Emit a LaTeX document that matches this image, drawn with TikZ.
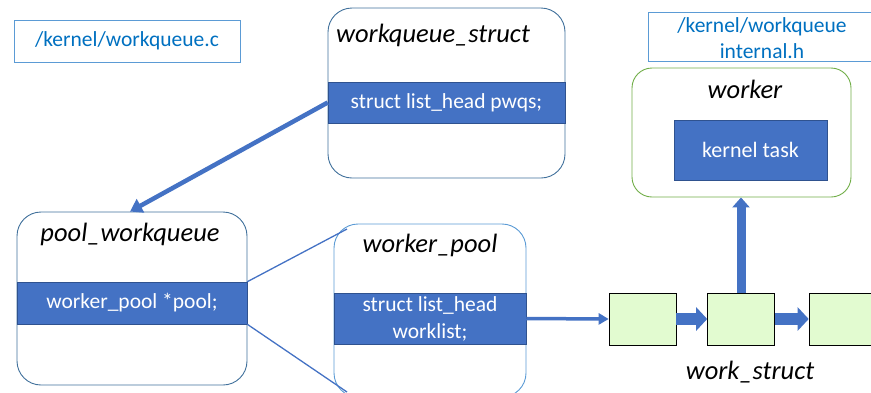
\documentclass[tikz,border=0pt]{standalone}
\usepackage{fontspec}
\setmainfont{Carlito}
\usetikzlibrary{arrows.meta}
\definecolor{bandblue}{RGB}{68,114,196}
\definecolor{bandedge}{RGB}{47,82,143}
\definecolor{structedge}{RGB}{65,113,156}
\definecolor{lightedge}{RGB}{91,155,213}
\definecolor{labeltext}{RGB}{0,112,192}
\definecolor{greenedge}{RGB}{112,173,71}
\definecolor{greenfill}{RGB}{226,251,208}
\tikzset{
  x=1pt,y=-1pt,
  structbox/.style={draw=structedge,line width=0.9pt,rounded corners=24pt,fill=white,inner sep=0pt},
  band/.style={draw=bandedge,line width=0.5pt,fill=bandblue,text=white,inner sep=0pt,font=\fontsize{21.5}{27}\selectfont,align=center},
  title/.style={font=\fontsize{26.5}{30}\selectfont\itshape,inner sep=0pt},
  filelabel/.style={draw=lightedge,line width=0.8pt,text=labeltext,font=\fontsize{21.5}{26}\selectfont,align=center,inner sep=0pt},
  workbox/.style={draw=black,line width=0.6pt,fill=greenfill,minimum width=67pt,minimum height=52pt,inner sep=0pt},
  blockarrow/.style={draw=bandblue,line width=12pt,-{Triangle[length=11pt 0,width=23pt 0]}},
  uparrow/.style={draw=bandblue,line width=9pt,-{Triangle[length=10pt 0,width=17pt 0]}},
  link/.style={draw=bandblue,line width=1.3pt},
}
\begin{document}
\begin{tikzpicture}
\useasboundingbox (0,0) rectangle (871,392);
\clip (0,0) rectangle (871,392);
% file labels
\node[filelabel,minimum width=226pt,minimum height=42pt] (lab1) at (127,41) {/kernel/workqueue.c};
\node[filelabel,minimum width=232pt,minimum height=49pt] (lab2) at (764,36.5) {};
\node[text=labeltext,font=\fontsize{21.5}{26}\selectfont,align=center,inner sep=0pt] (lab2t) at (762,38) {/kernel/workqueue\\internal.h};
% workqueue_struct
\node[structbox,minimum width=237pt,minimum height=170pt] (wq) at (446.5,93) {};
\node[title] (wqt) at (433,35) {workqueue\_struct};
\node[band,minimum width=237pt,minimum height=41pt] (wqb) at (446.5,102.5) {struct list\_head pwqs;};
% pool_workqueue
\node[structbox,minimum width=230pt,minimum height=173pt] (pwq) at (132,298.5) {};
\node[title] (pwqt) at (130,234) {pool\_workqueue};
\node[band,minimum width=230pt,minimum height=42pt] (pwqb) at (132,303) {worker\_pool *pool;};
% worker_pool
\node[structbox,draw=lightedge,minimum width=192pt,minimum height=173pt] (wp) at (430,310.5) {};
\node[title] (wpt) at (430,245) {worker\_pool};
\node[band,minimum width=192pt,minimum height=51pt] (wpb) at (430,318.5) {struct list\_head\\worklist;};
% worker
\node[draw=greenedge,line width=0.9pt,rounded corners=20pt,minimum width=219pt,minimum height=129pt,inner sep=0pt] (wk) at (741.5,132.5) {};
\node[title] (wkt) at (745,89) {worker};
\node[fill=bandblue,draw=bandedge,line width=0.5pt,text=white,minimum width=153pt,minimum height=60pt,inner sep=0pt,font=\fontsize{22}{26}\selectfont] (kt) at (750.5,150) {kernel task};
% work structs
\node[workbox] (b1) at (642.5,319) {};
\node[workbox] (b2) at (741,319) {};
\node[workbox] (b3) at (842.5,319) {};
\node[title] (wst) at (750,372) {work\_struct};
% connectors
\coordinate (wptop) at (347,229);
\coordinate (wpbot) at (347,392);
\draw[link] (pwqb.north east) -- (wptop);
\draw[link] (pwqb.south east) -- (wpbot);
\draw[draw=bandblue,line width=4.5pt,-{Triangle[length=12pt 0,width=15pt 0]}] (wqb.west) -- (pwq.north -| 130,0);
\draw[draw=bandblue,line width=3.5pt,-{Triangle[length=10pt 0,width=11pt 0]}] (wpb.east) -- (b1.west);
\draw[blockarrow] (b1.east) -- (b2.west);
\draw[blockarrow] (b2.east) -- (b3.west);
\draw[uparrow] (b2.north) -- (b2.north |- wk.south);
\end{tikzpicture}
\end{document}
